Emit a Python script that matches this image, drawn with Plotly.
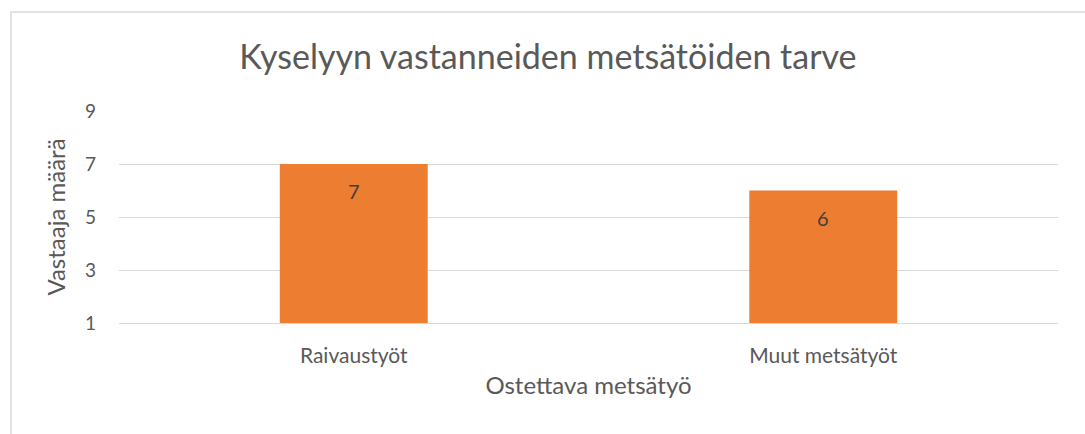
import plotly.graph_objects as go

categories = ["Raivaustyöt", "Muut metsätyöt"]
values = [7, 6]
tick_vals = [1, 3, 5, 7, 9]

TEXT = "#595959"
FONT = "Lato"

fig = go.Figure(go.Bar(
    x=categories,
    y=values,
    marker=dict(color="#ED7D31", line=dict(width=0)),
    hoverinfo="skip",
))

# data labels sit a bit below the bar top, like Excel's "inside end"
for cat, val in zip(categories, values):
    fig.add_annotation(
        x=cat, y=val, text=str(val), showarrow=False,
        yanchor="middle", yshift=-27,
        font=dict(family=FONT, size=20, color="#404040"),
    )

# light border around the chart area (runs off the right and bottom edges)
pl, pr, pt, pb = 119, 1058, 111, 323
pw, ph = pr - pl, pb - pt
fig.add_shape(
    type="rect", xref="paper", yref="paper",
    x0=(11 - pl) / pw, x1=(1100 - pl) / pw,
    y0=(pb - 450) / ph, y1=(pb - 12) / ph,
    line=dict(color="#D9D9D9", width=1.5),
)

fig.update_layout(
    width=1085,
    height=434,
    margin=dict(l=pl, r=1085 - pr, t=pt, b=434 - pb),
    paper_bgcolor="white",
    plot_bgcolor="white",
    bargap=0.685,
    showlegend=False,
    font=dict(family=FONT, color=TEXT, size=19),
    title=dict(
        text="Kyselyyn vastanneiden metsätöiden tarve",
        x=0.505, xanchor="center", y=0.868, yanchor="middle",
        font=dict(family=FONT, size=34, color=TEXT),
    ),
)

fig.update_xaxes(
    showgrid=False,
    showline=True, linecolor="#D9D9D9", linewidth=1,
    ticks="", ticklabelstandoff=14,
    tickfont=dict(size=21, color=TEXT),
    title=dict(text="Ostettava metsätyö", font=dict(size=24, color=TEXT), standoff=10),
    automargin=False,
)
fig.update_yaxes(
    range=[1, 9],
    tickvals=tick_vals,
    showgrid=True, gridcolor="#D9D9D9", gridwidth=1,
    zeroline=False, showline=False,
    ticks="", ticklabelstandoff=22,
    tickfont=dict(size=19, color=TEXT),
    title=dict(text="Vastaaja määrä", font=dict(size=24, color=TEXT), standoff=12),
    automargin=False,
)

fig.write_html(
    "out.html",
    config={"displayModeBar": False},
    post_script="document.body.style.margin='0';",
)
